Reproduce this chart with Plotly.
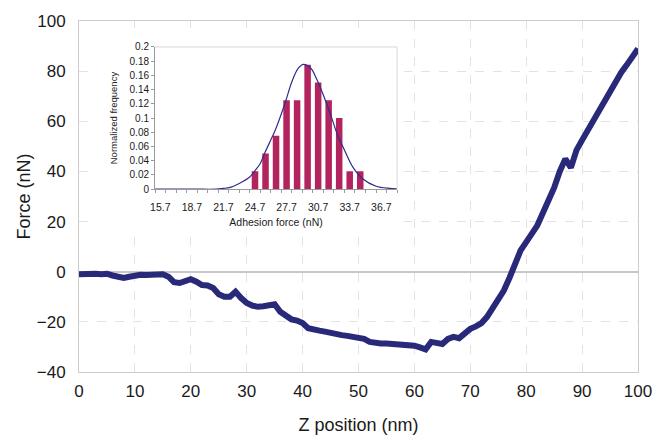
import plotly.graph_objects as go

# ---- main force curve ----
z_nm = list(range(0, 101))
force_nN = [-1.0, -0.8, -0.6, -0.8, -1.0, -0.8, -1.5, -2.0, -2.5, -2.0,
            -1.3, -1.2, -1.3, -1.0, -0.9, -1.0, -2.0, -4.2, -4.5, -4.0,
            -3.0, -4.0, -5.3, -5.5, -6.5, -9.0, -10.0, -10.0, -8.0, -10.5,
            -12.5, -13.5, -14.0, -13.8, -13.2, -13.0, -16.0, -17.5, -19.0, -19.5,
            -20.5, -22.5, -23.3, -23.5, -23.9, -24.5, -25.0, -25.3, -25.6, -26.0,
            -26.3, -26.8, -28.0, -28.6, -28.6, -28.6, -28.7, -28.8, -28.8, -29.3,
            -29.5, -30.2, -31.0, -28.0, -28.5, -28.8, -26.8, -26.0, -26.5, -24.5,
            -22.8, -21.8, -20.5, -18.0, -14.5, -11.3, -7.5, -2.5, 3.0, 8.5,
            11.8, 15.0, 18.5, 23.5, 28.5, 33.5, 40.0, 45.0, 41.5, 48.5,
            52.5, 56.5, 60.5, 64.5, 68.5, 72.5, 76.5, 79.5, 82.5, 86.0, 89.0]

# ---- inset histogram ----
bin_centers = [24.7, 25.7, 26.7, 27.7, 28.7, 29.7, 30.7, 31.7, 32.7, 33.7, 34.7]
norm_freq = [0.025, 0.05, 0.075, 0.125, 0.125, 0.175, 0.15, 0.125, 0.1, 0.025, 0.025]

# fitted curve
fit_x = [15.2, 17.0, 19.0, 21.0, 21.7, 22.25, 23.2, 24.2, 24.7, 25.2, 25.6, 26.1,
         26.6, 27.6, 28.2, 28.8, 29.3, 30.0, 30.6, 31.2, 31.9, 32.5, 33.2, 34.0,
         34.9, 36.2, 37.5, 38.2]
fit_y = [0.0, 0.0, 0.0, 0.0, 0.001, 0.002, 0.008, 0.017, 0.026, 0.036, 0.050, 0.066,
         0.082, 0.123, 0.151, 0.170, 0.1756, 0.170, 0.1535, 0.132, 0.104, 0.078, 0.055, 0.031,
         0.015, 0.004, 0.001, 0.0005]

inset_ticks = [15.7, 18.7, 21.7, 24.7, 27.7, 30.7, 33.7, 36.7]
inset_tick_text = ["15.7", "18.7", "21.7", "24.7", "27.7", "30.7", "33.7", "36.7"]

NAVY = "#29297a"
BAR = "#b3245f"
FONT = "Liberation Sans, Arial, sans-serif"

fig = go.Figure()

fig.add_trace(go.Scatter(x=z_nm, y=force_nN, mode="lines",
                         line=dict(color=NAVY, width=6), xaxis="x", yaxis="y",
                         showlegend=False, hoverinfo="skip"))

fig.add_trace(go.Bar(x=bin_centers, y=norm_freq, marker=dict(color=BAR, line=dict(width=0)),
                     width=0.62, xaxis="x2", yaxis="y2", showlegend=False))
fig.add_trace(go.Scatter(x=fit_x, y=fit_y, mode="lines",
                         line=dict(color="#2e2e8c", width=1.2, shape="spline"),
                         xaxis="x2", yaxis="y2", showlegend=False))

fig.update_layout(
    width=654, height=438,
    margin=dict(l=79, r=16, t=21, b=66),
    paper_bgcolor="white", plot_bgcolor="white",
    font=dict(family=FONT, color="#1a1a1a"),
    xaxis=dict(range=[0, 100], dtick=10, tick0=0, automargin=False,
               showgrid=True, gridcolor="#e3e3e3", griddash="dash", gridwidth=1,
               zeroline=False, showline=True, linecolor="#cccccc", linewidth=1, mirror=True,
               ticks="outside", ticklen=4, tickcolor="rgba(0,0,0,0)",
               tickfont=dict(size=17),
               title=dict(text="Z position (nm)", font=dict(size=18), standoff=17)),
    yaxis=dict(range=[-40, 100], dtick=20, tick0=0, automargin=False,
               showgrid=True, gridcolor="#e3e3e3", griddash="dash", gridwidth=1,
               zeroline=True, zerolinecolor="#c8c8c8", zerolinewidth=1.5,
               showline=True, linecolor="#cccccc", linewidth=1, mirror=True,
               ticks="outside", ticklen=9, tickcolor="rgba(0,0,0,0)",
               tickfont=dict(size=17),
               title=dict(text="Force (nN)", font=dict(size=18), standoff=1)),
    xaxis2=dict(domain=[0.136, 0.569], anchor="y2", range=[15.2, 38.2], automargin=False,
                tickmode="array", tickvals=inset_ticks, ticktext=inset_tick_text,
                ticks="outside", ticklen=8, tickcolor="rgba(0,0,0,0)",
                showgrid=False, zeroline=False,
                showline=True, linecolor="#9a9a9a", linewidth=1, mirror=False,
                minor=dict(tick0=15.2, dtick=1, ticks="outside", ticklen=3, tickcolor="#9a9a9a"),
                tickfont=dict(size=10.5),
                title=dict(text="Adhesion force (nN)", font=dict(size=10.5), standoff=6)),
    yaxis2=dict(domain=[0.521, 0.926], anchor="x2", range=[0, 0.2], dtick=0.02, tick0=0,
                automargin=False,
                ticks="outside", ticklen=3, tickcolor="#9a9a9a",
                showgrid=False, zeroline=False,
                showline=True, linecolor="#9a9a9a", linewidth=1,
                tickfont=dict(size=10),
                title=dict(text="Normalized frequency", font=dict(size=9.5), standoff=10)),
    shapes=[
        dict(type="rect", xref="x", yref="y", x0=3.2, x1=58.1, y0=13.8, y1=97.2,
             fillcolor="white", line=dict(width=0), layer="between"),
        dict(type="line", xref="x2 domain", yref="y2 domain", x0=0, x1=1, y0=1, y1=1,
             line=dict(color="#d6d6d6", width=1)),
        dict(type="line", xref="x2 domain", yref="y2 domain", x0=1, x1=1, y0=0, y1=1,
             line=dict(color="#d6d6d6", width=1)),
    ],
    bargap=0.35,
)

fig.write_html("out.html", config={"displayModeBar": False},
               post_script="document.body.style.margin='0';document.body.style.overflow='hidden';")
